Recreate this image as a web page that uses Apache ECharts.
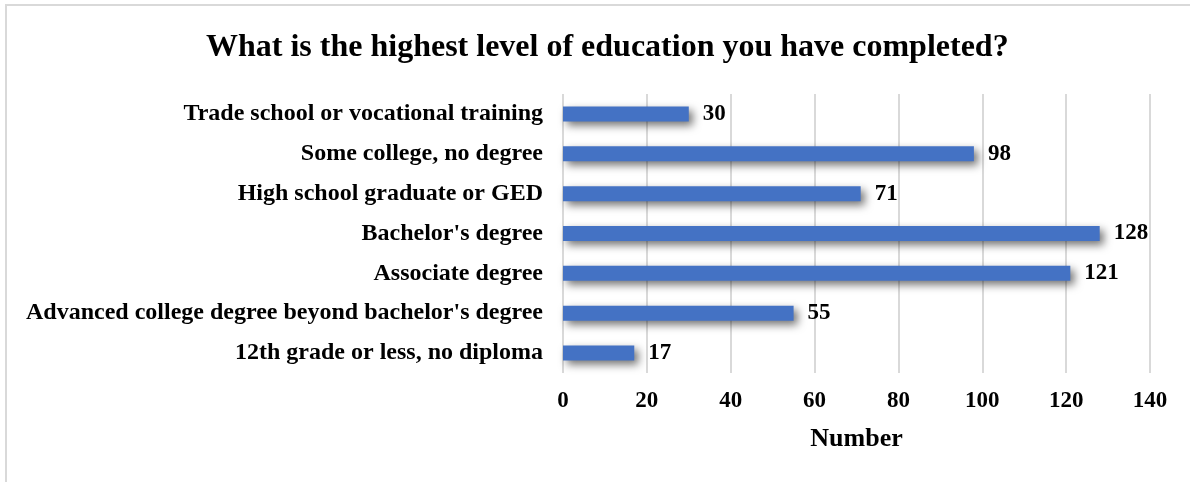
<!DOCTYPE html>
<html>
<head>
<meta charset="utf-8">
<script src="https://cdn.jsdelivr.net/npm/echarts@6/dist/echarts.min.js"></script>
<style>
  html, body { margin: 0; padding: 0; background: #fff; }
  #main { width: 1190px; height: 482px; }
</style>
</head>
<body>
<div id="main"></div>
<script>
  // bottom-to-top order, as in the source chart
  var categories = [
    '12th grade or less, no diploma',
    "Advanced college degree beyond bachelor's degree",
    'Associate degree',
    "Bachelor's degree",
    'High school graduate or GED',
    'Some college, no degree',
    'Trade school or vocational training'
  ];
  var counts = [17, 55, 121, 128, 71, 98, 30];
  var xTicks = { min: 0, max: 140, step: 20 };

  var serif = '"Liberation Serif", "Times New Roman", serif';
  var chart = echarts.init(document.getElementById('main'));

  var option = {
    animation: false,
    graphic: [
      {
        type: 'polyline',
        shape: { points: [[6, 482], [6, 5], [1190, 5]] },
        style: { stroke: '#d9d9d9', lineWidth: 2, fill: null }
      }
    ],
    title: {
      text: 'What is the highest level of education you have completed?',
      left: 201,
      top: 27,
      textStyle: {
        fontFamily: serif,
        fontWeight: 'bold',
        fontSize: 32,
        color: '#000'
      }
    },
    grid: {
      left: 563,
      right: 40,
      top: 94,
      bottom: 109
    },
    xAxis: {
      type: 'value',
      min: xTicks.min,
      max: xTicks.max,
      interval: xTicks.step,
      name: 'Number',
      nameLocation: 'middle',
      nameGap: 53,
      nameTextStyle: {
        fontFamily: serif,
        fontWeight: 'bold',
        fontSize: 26,
        color: '#000'
      },
      axisLine: { show: false },
      axisTick: { show: false },
      axisLabel: {
        margin: 17,
        fontFamily: serif,
        fontWeight: 'bold',
        fontSize: 23,
        color: '#000'
      },
      splitLine: { lineStyle: { color: '#d9d9d9', width: 2 } }
    },
    yAxis: {
      type: 'category',
      data: categories,
      axisLine: { show: false },
      axisTick: { show: false },
      axisLabel: {
        margin: 20,
        fontFamily: serif,
        fontWeight: 'bold',
        fontSize: 24,
        color: '#000'
      }
    },
    series: [
      {
        type: 'bar',
        data: counts,
        barWidth: 15,
        itemStyle: {
          color: '#4472c4',
          shadowColor: 'rgba(0,0,0,0.55)',
          shadowBlur: 8,
          shadowOffsetX: 4,
          shadowOffsetY: 4
        },
        label: {
          show: true,
          position: 'right',
          distance: 14,
          fontFamily: serif,
          fontWeight: 'bold',
          fontSize: 23,
          color: '#000'
        }
      }
    ]
  };

  option && chart.setOption(option);
</script>
</body>
</html>
